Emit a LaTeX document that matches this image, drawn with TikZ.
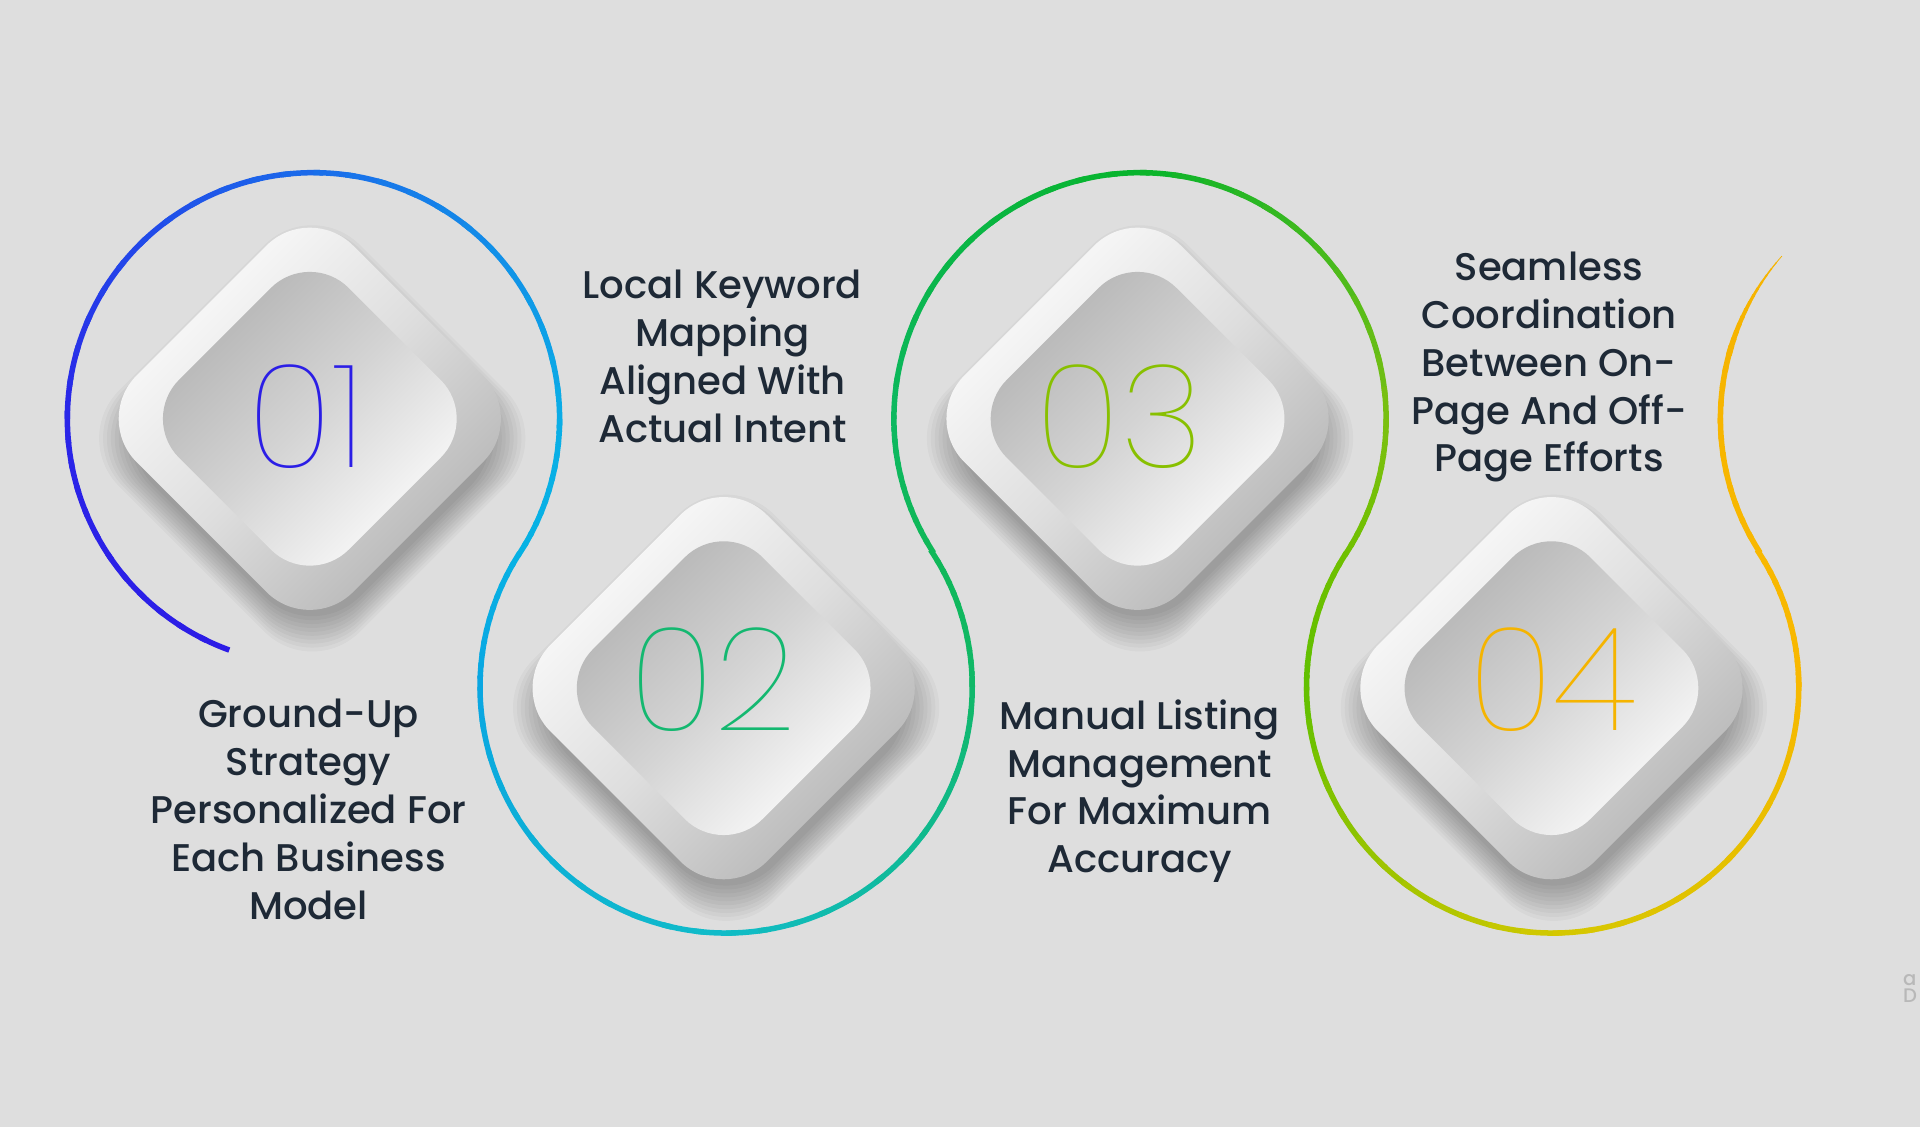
\documentclass[tikz,border=0pt]{standalone}
\usepackage{fontspec}
\setmainfont{Poppins Medium}
\newfontfamily\numfont{Poppins Thin}
\definecolor{bg}{HTML}{DEDEDE}
\definecolor{txt}{HTML}{1E2936}
\definecolor{c1a}{HTML}{2C1CE6}
\definecolor{c1b}{HTML}{2A25E8}
\definecolor{c1c}{HTML}{1A6CEA}
\definecolor{c1d}{HTML}{0AAEE6}
\definecolor{c1e}{HTML}{06B2E4}
\definecolor{c2b}{HTML}{0AA6E2}
\definecolor{c2c}{HTML}{10BCC8}
\definecolor{c2d}{HTML}{10B868}
\definecolor{c2e}{HTML}{10B858}
\definecolor{c3b}{HTML}{0CB860}
\definecolor{c3c}{HTML}{08B42C}
\definecolor{c3d}{HTML}{7CC010}
\definecolor{c3e}{HTML}{70C000}
\definecolor{c4b}{HTML}{60C000}
\definecolor{c4c}{HTML}{D4C800}
\definecolor{c4d}{HTML}{F8B800}
\definecolor{c4e}{HTML}{F8B800}
\definecolor{c5}{HTML}{F6B400}
\definecolor{d1}{HTML}{2B1EE6}
\definecolor{d2}{HTML}{14B870}
\definecolor{d3}{HTML}{88C000}
\definecolor{d4}{HTML}{F5B400}
\definecolor{oshade}{HTML}{B0B0B0}
\definecolor{omid}{HTML}{DEDEDE}
\definecolor{ishade}{HTML}{B0B0B0}
\definecolor{imid}{HTML}{D4D4D4}
% gradient arc segment: cx, cy, a0, a1, colA, colB
\newcommand\gseg[6]{%
  \foreach \i in {0,...,11}{%
    \pgfmathsetmacro\aa{#3+(#4-#3)*\i/12}%
    \pgfmathsetmacro\bb{#3+(#4-#3)*(\i+1.3)/12}%
    \pgfmathsetmacro\pp{100-(\i+0.5)*100/12}%
    \draw[curve, draw=#5!\pp!#6] ([shift={(#1,#2)}]\aa:201) arc[start angle=\aa, end angle=\bb, radius=201];
  }}
% diamond: cx, cy
\newcommand\diam[2]{%
  \foreach \k in {0,...,9}{%
    \pgfmathsetmacro\dd{168+\k*3.2}%
    \fill[black, fill opacity=0.03, rounded corners=55pt] (#1+2,#2+16-\dd) -- (#1+2+\dd,#2+16) -- (#1+2,#2+16+\dd) -- (#1+2-\dd,#2+16) -- cycle;
  }
  \shade[top color=white, bottom color=oshade, middle color=omid, shading angle=45, rounded corners=50pt]
    (#1,#2-176.8) -- (#1+176.8,#2) -- (#1,#2+176.8) -- (#1-176.8,#2) -- cycle;
  \shade[top color=ishade, bottom color=white, middle color=imid, shading angle=45, rounded corners=45pt]
    (#1,#2-138.6) -- (#1+138.6,#2) -- (#1,#2+138.6) -- (#1-138.6,#2) -- cycle;
}
\begin{document}
\begin{tikzpicture}[x=1pt,y=-1pt,
  curve/.style={line width=4.5pt},
  lbl/.style={text=txt, align=center, font=\fontsize{31.5}{39}\selectfont, inner sep=0pt},
  num/.style={font=\numfont\fontsize{118}{118}\selectfont, inner sep=0pt}]
\fill[bg] (0,0) rectangle (1568,920);
\useasboundingbox (0,0) rectangle (1568,920);

% gradient curve
\gseg{256}{342}{110}{180}{c1a}{c1b}
\gseg{256}{342}{180}{270}{c1b}{c1c}
\gseg{256}{342}{270}{360}{c1c}{c1d}
\gseg{256}{342}{360}{393}{c1d}{c1e}
\gseg{593}{561}{213}{180}{c1e}{c2b}
\gseg{593}{561}{180}{90}{c2b}{c2c}
\gseg{593}{561}{90}{0}{c2c}{c2d}
\gseg{593}{561}{0}{-33}{c2d}{c2e}
\gseg{931}{342}{147}{180}{c2e}{c3b}
\gseg{931}{342}{180}{270}{c3b}{c3c}
\gseg{931}{342}{270}{360}{c3c}{c3d}
\gseg{931}{342}{360}{393}{c3d}{c3e}
\gseg{1268}{561}{213}{180}{c3e}{c4b}
\gseg{1268}{561}{180}{90}{c4b}{c4c}
\gseg{1268}{561}{90}{0}{c4c}{c4d}
\gseg{1268}{561}{0}{-33}{c4d}{c4e}
\gseg{1606}{342}{147}{195}{c4e}{c5}
\foreach \i in {0,...,13}{%
  \pgfmathsetmacro\aa{195+26*\i/14}%
  \pgfmathsetmacro\bb{195+26*(\i+1.2)/14}%
  \pgfmathsetmacro\ww{4.5*(1-\i/14)+0.3}%
  \draw[line width=\ww pt, draw=c5] ([shift={(1606,342)}]\aa:201) arc[start angle=\aa, end angle=\bb, radius=201];
}

% diamonds
\diam{253}{342}
\diam{591}{562}
\diam{929}{342}
\diam{1267}{562}

\node[num, text=d1] (n1) at (250,340) {01};
\node[num, text=d2] (n2) at (582,555) {02};
\node[num, text=d3] (n3) at (914,340) {03};
\node[num, text=d4] (n4) at (1268,555) {04};

\node[lbl] (t1) at (252,661) {Ground-Up\\Strategy\\Personalized For\\Each Business\\Model};
\node[lbl] (t2) at (590,291) {Local Keyword\\Mapping\\Aligned With\\Actual Intent};
\node[lbl] (t3) at (931,646) {Manual Listing\\Management\\For Maximum\\Accuracy};
\node[lbl] (t4) at (1265,300) {Seamless\\Coordination\\Between On-\\Page And Off-\\Page Efforts};

\node[text=black!28, font=\fontsize{16}{14}\selectfont, anchor=west, align=left, inner sep=0pt] (wm) at (1554,807) {a\\D};
\end{tikzpicture}
\end{document}
